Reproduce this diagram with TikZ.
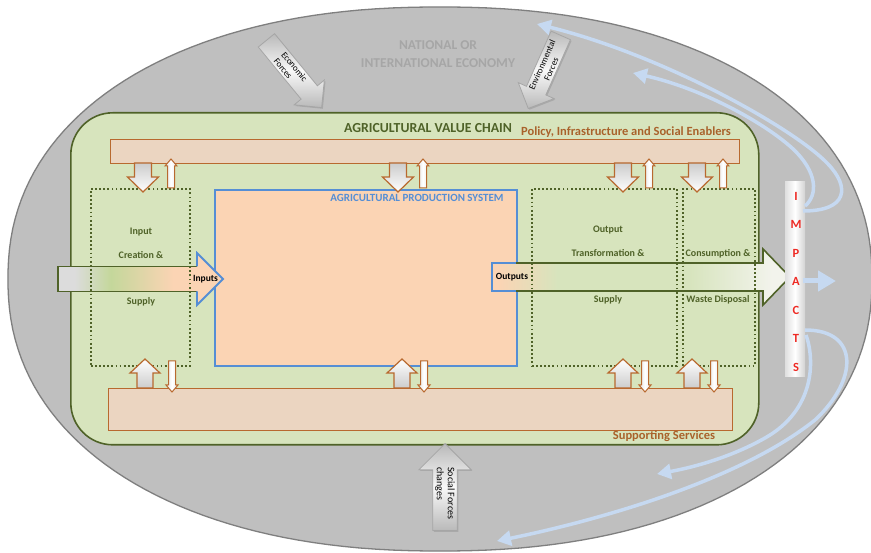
\documentclass[tikz,border=0pt]{standalone}
\usepackage{fontspec}
\setmainfont{Carlito}
\usetikzlibrary{shapes.arrows,arrows.meta,shadows}

\definecolor{ecoGray}{HTML}{BFBFBF}
\definecolor{ecoEdge}{HTML}{7F7F7F}
\definecolor{titleGray}{HTML}{A6A6A6}
\definecolor{chainFill}{HTML}{D7E4BD}
\definecolor{chainEdge}{HTML}{4F6228}
\definecolor{barFill}{HTML}{EBD5C1}
\definecolor{barEdge}{HTML}{B8692F}
\definecolor{brownText}{HTML}{A9622B}
\definecolor{prodFill}{HTML}{FBD4B4}
\definecolor{prodEdge}{HTML}{558ED5}
\definecolor{flowGray}{HTML}{DCDCDC}
\definecolor{flowGreen}{HTML}{C4D79B}
\definecolor{outWhite}{HTML}{F2F3EC}
\definecolor{flowBlue}{HTML}{C6D9F1}
\definecolor{impactRed}{HTML}{EE2A24}

% colour ramps of the input and output flows (path box spans 25bp..75bp)
\pgfdeclarehorizontalshading{inflowshade}{100bp}{color(0bp)=(flowGray); color(30bp)=(flowGray); color(41bp)=(flowGreen); color(60bp)=(prodFill); color(100bp)=(prodFill)}
\pgfdeclarehorizontalshading{outflowshade}{100bp}{color(0bp)=(prodFill); color(26bp)=(prodFill); color(36bp)=(chainFill); color(58bp)=(chainFill); color(72bp)=(outWhite); color(100bp)=(outWhite)}

\begin{document}
\begin{tikzpicture}[x=1pt,y=-1pt,
  chainbox/.style={draw=chainEdge, fill=chainFill, line width=1.6pt, rounded corners=42pt, anchor=north west, inner sep=0pt},
  barbox/.style={draw=barEdge, fill=barFill, line width=1.3pt, anchor=north west, inner sep=0pt},
  stagebox/.style={draw=chainEdge, line width=1.8pt, dash pattern=on 1.8pt off 2.3pt, anchor=north west, inner sep=0pt},
  prodbox/.style={draw=prodEdge, fill=prodFill, line width=1.8pt, anchor=north west, inner sep=0pt},
  stagetext/.style={text=chainEdge, font=\fontsize{10}{12}\selectfont\bfseries},
  bartext/.style={text=brownText, font=\fontsize{12.5}{14}\selectfont\bfseries},
  force/.style={single arrow, draw=gray!70, top color=gray!55, bottom color=gray!55, middle color=gray!5,
    line width=0.8pt, inner sep=2pt, font=\fontsize{9}{10}\selectfont, text=black,
    drop shadow={shadow xshift=1.2pt, shadow yshift=-1.2pt, opacity=0.35}},
  flow/.style={draw=flowBlue, line width=3.5pt, -{Triangle[width=15pt,length=14pt]}},
  feedarrow/.style={draw=barEdge, line width=1.2pt, line join=miter},
  feeddown/.pic={\draw[feedarrow, top color=gray!40, bottom color=white]
    (-8.5,0) -- (-8.5,14) -- (-15.5,14) -- (0,29) -- (15.5,14) -- (8.5,14) -- (8.5,0) -- cycle;},
  feedup/.pic={\draw[feedarrow, top color=white, bottom color=gray!40]
    (-8,0) -- (-8,-15) -- (-15,-15) -- (0,-29) -- (15,-15) -- (8,-15) -- (8,0) -- cycle;},
  thinup/.pic={\draw[feedarrow, line width=1pt, left color=gray!20, right color=gray!20, middle color=white]
    (-3.5,0) -- (-3.5,-22) -- (-6,-22) -- (0,-29) -- (6,-22) -- (3.5,-22) -- (3.5,0) -- cycle;},
  thindown/.pic={\draw[feedarrow, line width=1pt, left color=gray!20, right color=gray!20, middle color=white]
    (-3.5,0) -- (-3.5,24) -- (-6,24) -- (0,31) -- (6,24) -- (3.5,24) -- (3.5,0) -- cycle;}
]
\useasboundingbox (0,0) rectangle (871,553);
\fill[white] (0,0) rectangle (871,553);

% national or international economy: a slightly squared oval (superellipse, exponent 2.2)
\draw[ecoEdge, fill=ecoGray, line width=1.3pt]
  plot[variable=\t, domain=1:359, samples=180]
    ({440+432*sign(cos(\t))*abs(cos(\t))^0.909}, {279+272*sign(sin(\t))*abs(sin(\t))^0.909}) -- cycle;
\node[text=titleGray, font=\fontsize{13.5}{18}\selectfont\bfseries, align=center] (ecotitle) at (438,54) {NATIONAL OR\\INTERNATIONAL ECONOMY};

% value chain frame and the two enabling bars
\node[chainbox, minimum width=688pt, minimum height=332pt] (chain) at (70,112) {};
\node[barbox, minimum width=629pt, minimum height=24pt] (policy) at (110,139) {};
\node[barbox, minimum width=624pt, minimum height=42pt] (support) at (108,388) {};
\node[text=chainEdge, font=\fontsize{13.8}{15}\selectfont\bfseries] (chaintitle) at (428,128) {AGRICULTURAL VALUE CHAIN};
\node[bartext] (policytitle) at (626,132) {Policy, Infrastructure and Social Enablers};
\node[bartext] (supporttitle) at (664,436) {Supporting Services};

% production system
\node[prodbox, minimum width=302pt, minimum height=176pt] (prod) at (214,189) {};
\node[text=prodEdge, font=\fontsize{11}{12}\selectfont\bfseries] (prodtitle) at (417,198) {AGRICULTURAL PRODUCTION SYSTEM};

% input flow
\shade[shading=inflowshade] (58,266.5) -- (197,266.5) -- (197,253) -- (223,279) -- (197,305) -- (197,291.5) -- (58,291.5) -- cycle;
\draw[chainEdge, line width=1.6pt] (197,266.5) -- (58,266.5) -- (58,291.5) -- (197,291.5);
\draw[prodEdge, line width=1.8pt, line join=miter] (197,291.5) -- (197,305) -- (223,279) -- (197,253) -- (197,266.5);
\node[font=\fontsize{9.5}{10}\selectfont\bfseries, inner sep=0pt] (inlabel) at (205.5,279) {Inputs};

% output flow
\shade[shading=outflowshade] (492,263) -- (763,263) -- (763,249) -- (790,277) -- (763,305) -- (763,291) -- (492,291) -- cycle;
\draw[prodEdge, line width=1.8pt] (516,263) -- (492,263) -- (492,291) -- (516,291);
\draw[chainEdge, line width=1.6pt, line join=miter] (516,291) -- (763,291) -- (763,305) -- (790,277) -- (763,249) -- (763,263) -- (516,263);
\node[font=\fontsize{9.5}{10}\selectfont\bfseries, inner sep=0pt] (outlabel) at (512,277) {Outputs};

% value chain stages
\node[stagebox, minimum width=99pt, minimum height=177pt] (inbox) at (90,188) {};
\node[stagebox, minimum width=145pt, minimum height=177pt] (outbox) at (531,188) {};
\node[stagebox, minimum width=72pt, minimum height=177pt] (consbox) at (682,188) {};
\node[stagetext] (in1) at (141,232) {Input};
\node[stagetext] (in2) at (141,255) {Creation \&};
\node[stagetext] (in3) at (141,302) {Supply};
\node[stagetext] (out1) at (608,230) {Output};
\node[stagetext] (out2) at (608,253) {Transformation \&};
\node[stagetext] (out3) at (608,300) {Supply};
\node[stagetext] (cons1) at (718,254) {Consumption \&};
\node[stagetext] (cons2) at (718,300) {Waste Disposal};

% exchanges with the enabling bars
\foreach \dx/\ux in {143/171, 398/423, 623/649, 697/723} {
  \pic at (\dx,163) {feeddown};
  \pic at (\ux,188) {thinup};
}
\foreach \ux/\dx in {145/172, 402/424, 623/645, 692/714} {
  \pic at (\ux,388) {feedup};
  \pic at (\dx,361) {thindown};
}

% outside forces
\node[force, rotate=-50.6, anchor=tip, minimum height=87pt, single arrow head extend=9pt, align=left] (econ) at (322,108) {Economic\\Forces};
\node[force, rotate=66, shape border rotate=180, anchor=tip, minimum height=80pt, single arrow head extend=9pt, align=center] (env) at (528,109) {Environmental\\Forces};
\node[force, rotate=-90, shape border rotate=180, anchor=tip, minimum height=87pt, single arrow head extend=14pt, align=left, font=\fontsize{10}{11}\selectfont] (social) at (445,443) {Social Forces\\changes};

% impacts column
\node[left color=gray!25, right color=gray!35, middle color=white, minimum width=20pt, minimum height=195pt, inner sep=0pt] (impacts) at (795,279.5) {};
\foreach \ch [count=\k from 0] in {I,M,P,A,C,T,S}
  \node[text=impactRed, font=\fontsize{12.5}{12}\selectfont\bfseries] at (796,196+28.5*\k) {\ch};

% feedback of the impacts
\coordinate (fbA) at (633,73);
\coordinate (fbB) at (537,24);
\coordinate (fbC) at (657,474);
\coordinate (fbD) at (497,541);
\coordinate (fbE) at (836,281);
\draw[flow] (805,206) .. controls (818,195) and (818,172) .. (792,148) .. controls (762,121) and (700,88) .. (fbA);
\draw[flow] (803,211) .. controls (848,211) and (850,187) .. (828,164) .. controls (795,129) and (665,56) .. (fbB);
\draw[flow] (806,335) .. controls (815,360) and (815,410) .. (765,438) .. controls (735,455) and (700,466) .. (fbC);
\draw[flow] (805,330) .. controls (860,330) and (858,380) .. (815,420) .. controls (740,480) and (600,520) .. (fbD);
\draw[flow, line width=5pt, -{Triangle[width=20pt,length=18pt]}] (impacts.east |- fbE) ++(-2,0) -- (fbE);
\end{tikzpicture}
\end{document}
